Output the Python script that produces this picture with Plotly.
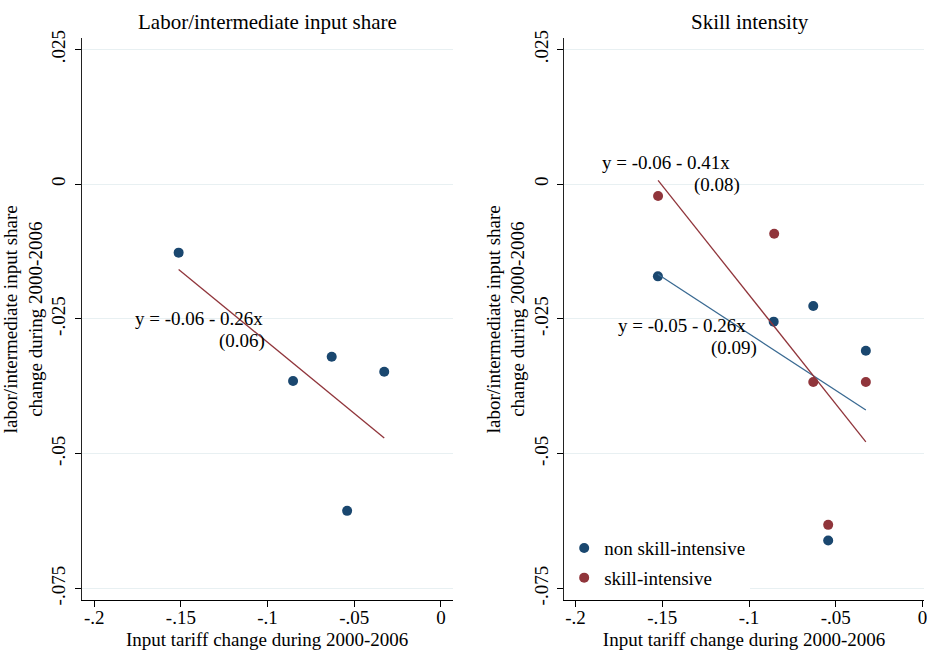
import numpy as np
import plotly.graph_objects as go

# ---------------- data ----------------
left_x = [-0.1513, -0.0853, -0.0630, -0.0327, -0.0541]
left_y = [-0.0127, -0.0365, -0.0320, -0.0348, -0.0606]

nonskill_x = [-0.1525, -0.0858, -0.0630, -0.0327, -0.0544]
nonskill_y = [-0.0171, -0.0255, -0.0226, -0.0309, -0.0661]

skill_x = [-0.1524, -0.0855, -0.0630, -0.0327, -0.0544]
skill_y = [-0.0022, -0.0092, -0.0367, -0.0367, -0.0632]

y_tickvals = [0.025, 0, -0.025, -0.05, -0.075]
y_ticktext = [".025", "0", "-.025", "-.05", "-.075"]
x_tickvals = [-0.2, -0.15, -0.1, -0.05, 0]
x_ticktext = ["-.2", "-.15", "-.1", "-.05", "0"]

panel_titles = ["Labor/intermediate input share", "Skill intensity"]
x_title = "Input tariff change during 2000-2006"
y_title = "labor/intermediate input share<br>change during 2000-2006"
series_names = ["non skill-intensive", "skill-intensive"]

fit_labels_left = ["y = -0.06 - 0.26x", "(0.06)"]
fit_labels_skill = ["y = -0.06 - 0.41x", "(0.08)"]
fit_labels_nonskill = ["y = -0.05 - 0.26x", "(0.09)"]

# ---------------- style ----------------
NAVY = "#1a476f"
MAROON = "#90353b"
FONT = "Liberation Serif"
W, H = 927, 657
FS = 19


def px(xp):
    return xp / W


def py(yp):
    return 1 - yp / H


def fit_line(x, y):
    b, a = np.polyfit(x, y, 1)
    xs = np.array([min(x), max(x)])
    return xs, a + b * xs


fig = go.Figure()

# left panel
fig.add_trace(go.Scatter(x=left_x, y=left_y, mode="markers",
                         marker=dict(color=NAVY, size=10),
                         showlegend=False, xaxis="x", yaxis="y"))
fx, fy = fit_line(left_x, left_y)
fig.add_trace(go.Scatter(x=fx, y=fy, mode="lines",
                         line=dict(color=MAROON, width=1.3),
                         showlegend=False, xaxis="x", yaxis="y"))

# right panel
fig.add_trace(go.Scatter(x=nonskill_x, y=nonskill_y, mode="markers",
                         marker=dict(color=NAVY, size=10), name=series_names[0],
                         legendgroup="a", xaxis="x2", yaxis="y2"))
fig.add_trace(go.Scatter(x=skill_x, y=skill_y, mode="markers",
                         marker=dict(color=MAROON, size=10), name=series_names[1],
                         legendgroup="b", xaxis="x2", yaxis="y2"))
fx, fy = fit_line(nonskill_x, nonskill_y)
fig.add_trace(go.Scatter(x=fx, y=fy, mode="lines",
                         line=dict(color="#3a6a92", width=1.3),
                         showlegend=False, xaxis="x2", yaxis="y2"))
fx, fy = fit_line(skill_x, skill_y)
fig.add_trace(go.Scatter(x=fx, y=fy, mode="lines",
                         line=dict(color=MAROON, width=1.3),
                         showlegend=False, xaxis="x2", yaxis="y2"))

ydom = [py(604.3), py(30.7)]
tfont = dict(family=FONT, size=FS, color="#000")
common_x = dict(tickvals=x_tickvals, ticktext=x_ticktext, ticks="outside", ticklen=6,
                tickcolor="#000", showline=True, linecolor="#000", linewidth=1,
                showgrid=False, zeroline=False, tickfont=tfont, ticklabelstandoff=-6,
                ticklabeloverflow="allow",
                title=dict(text=x_title, font=tfont, standoff=5))
common_y = dict(tickvals=y_tickvals, ticktext=y_ticktext, ticks="outside", ticklen=6,
                tickcolor="#000", showline=True, linecolor="#222", linewidth=1,
                showgrid=True, gridcolor="#e8f0f2", gridwidth=1.3, zeroline=False,
                tickangle=-90, range=[-0.0772, 0.0271],
                tickfont=tfont, ticklabelstandoff=2,
                title=dict(text=y_title, font=tfont, standoff=0))

fig.update_layout(
    width=W, height=H,
    margin=dict(l=0, r=0, t=0, b=0),
    plot_bgcolor="white", paper_bgcolor="white",
    font=dict(family=FONT, color="#000"),
    xaxis=dict(common_x, domain=[px(82), px(454)], range=[-0.2072, 0.0067], anchor="y"),
    yaxis=dict(common_y, domain=ydom, anchor="x"),
    xaxis2=dict(common_x, domain=[px(566), 1.0], range=[-0.2065, 0.0008], anchor="y2"),
    yaxis2=dict(common_y, domain=ydom, anchor="x2"),
    legend=dict(x=px(566), y=py(601), xanchor="left", yanchor="bottom",
                bgcolor="white", borderwidth=0, tracegroupgap=2,
                font=tfont),
)

title_font = dict(family=FONT, size=21, color="#000")
fig.add_annotation(text=panel_titles[0], x=px((82 + 454) / 2), y=py(14), xref="paper", yref="paper",
                   xanchor="center", yanchor="middle", showarrow=False, font=title_font)
fig.add_annotation(text=panel_titles[1], x=px((566 + 939) / 2), y=py(14), xref="paper", yref="paper",
                   xanchor="center", yanchor="middle", showarrow=False, font=title_font)


def add_fit_label(labels, pos, xr, yr):
    for text, (x, y) in zip(labels, pos):
        fig.add_annotation(text=text, x=x, y=y, xref=xr, yref=yr, xanchor="left",
                           yanchor="middle", showarrow=False, font=tfont)


add_fit_label(fit_labels_left, [(-0.1775, -0.0250), (-0.1290, -0.0291)], "x", "y")
add_fit_label(fit_labels_skill, [(-0.1860, 0.0040), (-0.1330, -0.0001)], "x2", "y2")
add_fit_label(fit_labels_nonskill, [(-0.1765, -0.0262), (-0.1229, -0.0303)], "x2", "y2")

# the page body has a default 8px margin; remove it so the figure fills the window
fig.write_html("out.html", config={"displayModeBar": False},
               post_script="document.body.style.margin='0';")
